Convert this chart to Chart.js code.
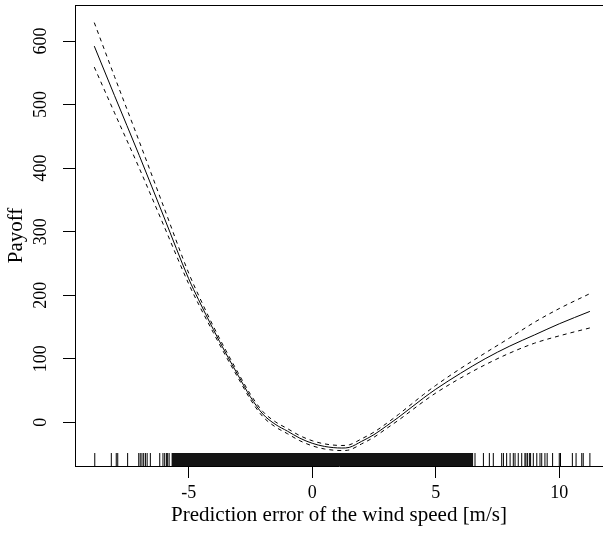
<!DOCTYPE html>
<html>
<head>
<meta charset="utf-8">
<script src="https://cdn.jsdelivr.net/npm/chart.js@4/dist/chart.umd.min.js"></script>
<style>
  html, body { margin: 0; padding: 0; background: #fff; overflow: hidden; }
  #wrap { width: 603px; height: 538px; }
</style>
</head>
<body>
<div id="wrap"><canvas id="gamPlot" width="603" height="538"></canvas></div>
<script>
// smooth term: fitted curve and +/- 2 SE bands
const fitX = [-8.82, -8, -7, -6, -5, -4.6, -4, -3.5, -3, -2.5, -2, -1.5, -1, -0.5, 0, 0.5, 1.2, 1.5, 2, 2.5, 3, 3.5, 4, 4.5, 5, 6, 7, 8, 9, 10, 11.24];
const fitY = [592, 514, 420, 323, 226, 193, 146, 109, 74, 40, 13, -3, -14, -25, -33, -38, -40.5, -39.5, -30, -19.5, -6, 8, 23, 38, 52, 77, 100, 120, 137.5, 155, 174.5];
const upperY = [629, 544, 442, 338, 235, 200, 151, 113.5, 78, 44, 17, 1, -10, -21, -29, -34, -36.5, -35.5, -26, -15.5, -2, 12.5, 28, 43.5, 58, 84.5, 109, 133, 157.5, 179, 202.5];
const lowerY = [559, 487, 400, 309, 218, 186, 141, 104.5, 70, 36, 9, -7, -18, -29, -37, -42, -44.5, -43.5, -34, -23.5, -10, 3.5, 18, 32.5, 46, 69.5, 90.5, 109, 124.5, 136, 148.5];

// rug: isolated observations and the solid dense stretch
const rugX = [-8.80, -8.13, -7.93, -7.87, -7.47, -7.02, -6.96, -6.89, -6.82, -6.75, -6.68, -6.55, -6.17, -6.04, -5.97, -5.90, -5.85, -5.79,
  6.59, 6.93, 7.17, 7.33, 7.67, 7.74, 7.87, 8.01, 8.14, 8.21, 8.34, 8.48, 8.61, 8.65, 8.71, 8.79, 8.84, 8.95, 9.09, 9.22,
  9.29, 9.42, 9.51, 9.73, 10.0, 10.05, 10.53, 10.68, 10.91, 10.97, 11.24];
const rugDense = [-5.70, 6.52];

const xTicks = [-5, 0, 5, 10];
const yTicks = [0, 100, 200, 300, 400, 500, 600];
const xRange = [-9.6, 11.77];
const yRange = [-68.8, 656.7];
const rugLevel = -58.6;
const rugTop = -48.3;

const SERIF = "'Liberation Serif', 'Times New Roman', serif";

function pts(xs, ys) {
    return xs.map((x, i) => ({ x: x, y: ys[i] }));
}

// box top edge (R draws a full frame)
const frameTop = {
    id: 'frameTop',
    afterDraw(chart) {
        const { ctx, chartArea } = chart;
        ctx.save();
        ctx.strokeStyle = '#000';
        ctx.lineWidth = 1;
        ctx.beginPath();
        ctx.moveTo(chartArea.left, Math.round(chartArea.top) + 0.5);
        ctx.lineTo(chartArea.right, Math.round(chartArea.top) + 0.5);
        ctx.stroke();
        ctx.restore();
    }
};

const lineStyle = {
    type: 'line',
    borderColor: '#000',
    borderWidth: 1,
    pointRadius: 0,
    fill: false,
    cubicInterpolationMode: 'monotone'
};

new Chart(document.getElementById('gamPlot').getContext('2d'), {
    type: 'line',
    data: {
        datasets: [
            Object.assign({}, lineStyle, { label: 'fit', data: pts(fitX, fitY) }),
            Object.assign({}, lineStyle, { label: 'upper', data: pts(fitX, upperY), borderDash: [4, 4] }),
            Object.assign({}, lineStyle, { label: 'lower', data: pts(fitX, lowerY), borderDash: [4, 4] }),
            {
                type: 'scatter',
                label: 'rug',
                data: rugX.map(x => ({ x: x, y: rugLevel })),
                pointStyle: 'line',
                rotation: 90,
                radius: 6.5,
                borderColor: '#000',
                borderWidth: 1
            },
            {
                type: 'line',
                label: 'rugDense',
                data: rugDense.map(x => ({ x: x, y: rugTop })),
                borderWidth: 0,
                pointRadius: 0,
                backgroundColor: '#141414',
                fill: 'start'
            }
        ]
    },
    options: {
        responsive: false,
        animation: false,
        layout: { autoPadding: false, padding: { top: 5, right: 0, bottom: 0, left: 0 } },
        plugins: { legend: { display: false }, tooltip: { enabled: false } },
        scales: {
            x: {
                type: 'linear',
                min: xRange[0],
                max: xRange[1],
                afterBuildTicks: s => { s.ticks = xTicks.map(v => ({ value: v })); },
                afterFit: s => { s.height = 72; s.paddingLeft = 0; s.paddingRight = 0; },
                grid: { drawOnChartArea: false, color: '#000', tickLength: 12 },
                border: { display: true, color: '#000', width: 1 },
                ticks: {
                    color: '#000',
                    padding: 4,
                    maxRotation: 0,
                    font: { family: SERIF, size: 18 },
                    callback: v => String(v)
                },
                title: {
                    display: true,
                    text: 'Prediction error of the wind speed [m/s]',
                    color: '#000',
                    font: { family: SERIF, size: 21 },
                    padding: { top: 0, bottom: 10 }
                }
            },
            y: {
                type: 'linear',
                min: yRange[0],
                max: yRange[1],
                afterBuildTicks: s => { s.ticks = yTicks.map(v => ({ value: v })); },
                afterFit: s => { s.width = 75; s.paddingTop = 0; s.paddingBottom = 0; },
                grid: { drawOnChartArea: false, color: '#000', tickLength: 12 },
                border: { display: true, color: '#000', width: 1 },
                ticks: {
                    color: '#000',
                    padding: 8,
                    minRotation: 90,
                    maxRotation: 90,
                    crossAlign: 'center',
                    font: { family: SERIF, size: 18 },
                    callback: v => String(v)
                },
                title: {
                    display: true,
                    text: 'Payoff',
                    color: '#000',
                    font: { family: SERIF, size: 21 },
                    padding: { top: 4, bottom: 0 }
                }
            }
        }
    },
    plugins: [frameTop]
});
</script>
</body>
</html>
